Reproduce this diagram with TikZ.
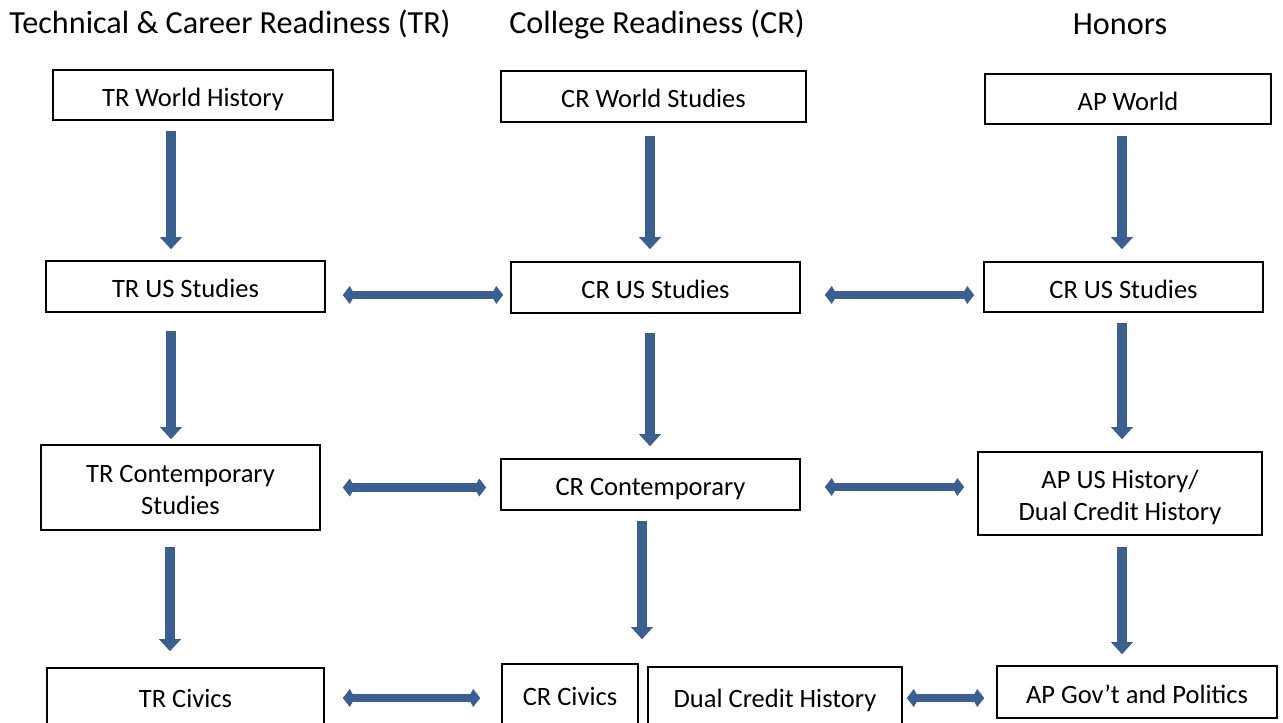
\documentclass[tikz,border=0pt]{standalone}
\usepackage{fontspec}
\setmainfont{Carlito}
\usetikzlibrary{arrows.meta,calc}

\definecolor{flowblue}{RGB}{59,95,143}

\begin{document}
\begin{tikzpicture}[x=1pt,y=-1pt,
  course/.style={draw,line width=1.6pt,align=center,inner sep=0pt,
    text height=24pt,text depth=2pt,
    font=\fontsize{26.5}{31.5}\selectfont},
  twoline/.style={text height=55.5pt},
  head/.style={font=\fontsize{32.2}{36}\selectfont,inner sep=0pt},
  down/.style={draw=flowblue,line width=10pt,
    -{Triangle[width=22pt,length=12pt,line width=0pt]}},
  both/.style={draw=flowblue,line width=8.5pt,
    {Kite[width=18pt,length=12pt,inset=5pt,line width=0pt]}-{Kite[width=18pt,length=12pt,inset=5pt,line width=0pt]}}]

\useasboundingbox (0,0) rectangle (1283,723);

% column headings
\node[head] (tr) at (230,24) {Technical \& Career Readiness (TR)};
\node[head] (cr) at (657,24) {College Readiness (CR)};
\node[head] (hon) at (1120,24) {Honors};

% TR column
\node[course,minimum width=280pt,minimum height=50pt] (twh) at (193,95) {TR World History};
\node[course,minimum width=279pt,minimum height=51pt] (tus) at (185.5,286.5) {TR US Studies};
\node[course,twoline,minimum width=279pt,minimum height=85pt] (tcs) at (180.5,487.5) {TR Contemporary\\Studies};
\node[course,minimum width=277pt,minimum height=56pt] (tciv) at (185.5,696) {TR Civics};

% CR column
\node[course,minimum width=305pt,minimum height=51pt] (cws) at (653.5,96.5) {CR World Studies};
\node[course,minimum width=289pt,minimum height=51pt] (cus) at (655.5,287.5) {CR US Studies};
\node[course,minimum width=299pt,minimum height=51pt] (ccon) at (650.5,484.5) {CR Contemporary};
\node[course,minimum width=136pt,minimum height=60pt] (cciv) at (570,694) {CR Civics};
\node[course,minimum width=254pt,minimum height=58pt] (dch) at (775,696) {Dual Credit History};

% Honors column
\node[course,minimum width=286pt,minimum height=50pt] (apw) at (1128,99) {AP World};
\node[course,minimum width=279pt,minimum height=50pt] (hus) at (1123.5,287) {CR US Studies};
\node[course,twoline,minimum width=284pt,minimum height=83pt] (apus) at (1120,493.5) {AP US History/\\Dual Credit History};
\node[course,minimum width=280pt,minimum height=52pt] (apg) at (1137,692) {AP Gov’t and Politics};

% downward arrows
\draw[down,shorten <=10pt,shorten >=11pt] ([xshift=-22pt]twh.south) -- ([xshift=-22pt]twh.south |- tus.north);
\draw[down,shorten <=18pt,shorten >=5pt] ([xshift=-14.5pt]tus.south) -- ([xshift=-14.5pt]tus.south |- tcs.north);
\draw[down,shorten <=16pt,shorten >=16pt] ([xshift=-10.5pt]tcs.south) -- ([xshift=-10.5pt]tcs.south |- tciv.north);

\draw[down,shorten <=13pt,shorten >=12pt] ([xshift=-3.5pt]cws.south) -- ([xshift=-3.5pt]cws.south |- cus.north);
\draw[down,shorten <=19pt,shorten >=12pt] ([xshift=-5.5pt]cus.south) -- ([xshift=-5.5pt]cus.south |- ccon.north);
\draw[down,shorten <=10pt,shorten >=24pt] ([xshift=-8.5pt]ccon.south) -- ([xshift=-8.5pt]ccon.south |- cciv.north);

\draw[down,shorten <=11pt,shorten >=12pt] ([xshift=-6pt]apw.south) -- ([xshift=-6pt]apw.south |- hus.north);
\draw[down,shorten <=10pt,shorten >=12pt] ([xshift=-1.5pt]hus.south) -- ([xshift=-1.5pt]hus.south |- apus.north);
\draw[down,shorten <=11pt,shorten >=11pt] ([xshift=2pt]apus.south) -- ([xshift=2pt]apus.south |- apg.north);

% sideways arrows
\draw[both,shorten <=17pt,shorten >=7pt] ([yshift=-8.5pt]tus.east) -- ([yshift=-8.5pt]tus.east -| cus.west);
\draw[both,shorten <=24pt,shorten >=9pt] ([yshift=-7.5pt]cus.east) -- ([yshift=-7.5pt]cus.east -| hus.west);
\draw[both,shorten <=22pt,shorten >=14pt] (tcs.east) -- (tcs.east -| ccon.west);
\draw[both,shorten <=24pt,shorten >=13pt] ([yshift=-2.5pt]ccon.east) -- ([yshift=-2.5pt]ccon.east -| apus.west);
\draw[both,shorten <=18pt,shorten >=21pt] ([yshift=-2pt]tciv.east) -- ([yshift=-2pt]tciv.east -| cciv.west);
\draw[both,shorten <=4pt,shorten >=12pt] ([yshift=-2pt]dch.east) -- ([yshift=-2pt]dch.east -| apg.west);

\end{tikzpicture}
\end{document}
